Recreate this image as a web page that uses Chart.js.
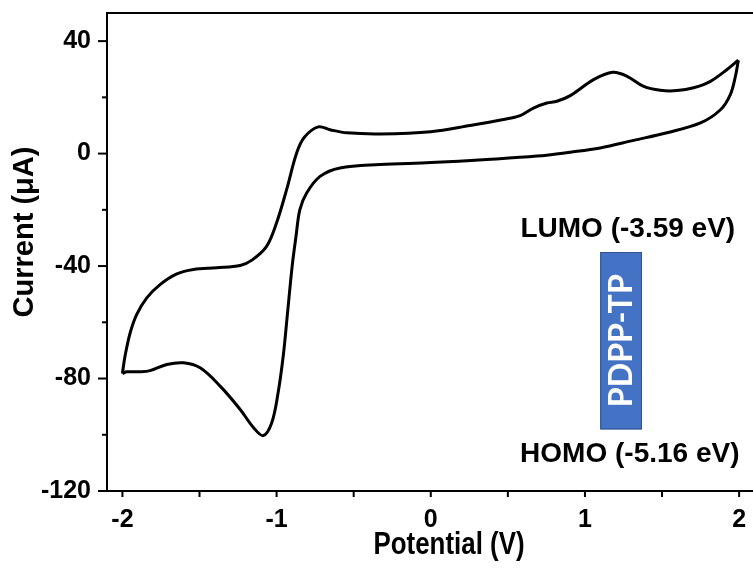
<!doctype html>
<html lang="en">
<head>
<meta charset="utf-8">
<title>Cyclic voltammogram PDPP-TP</title>
<script src="https://cdn.jsdelivr.net/npm/chart.js"></script>
<style>
  html,body{margin:0;padding:0;background:#fff;}
</style>
</head>
<body>
<canvas id="chart" width="753" height="569"></canvas>
<script>
/* ─── data ─── */
// forward scan, -2 V -> 2 V
const fwdPotential=[-2.0,-1.983,-1.95,-1.907,-1.842,-1.756,-1.647,-1.539,-1.388,-1.236,-1.16,-1.065,-1.0,-0.935,-0.87,-0.82,-0.73,-0.654,-0.545,-0.329,0,0.255,0.471,0.58,0.666,0.753,0.818,0.905,1.056,1.18,1.273,1.381,1.489,1.597,1.705,1.814,1.922,1.995];
const fwdCurrent  =[-78.2,-72,-63.8,-57.2,-51.3,-46.6,-42.8,-41.2,-40.6,-39.8,-37.9,-33,-24.6,-12.8,0.2,5.8,9.5,8.5,7.4,7.0,7.8,10,12.1,13.5,16.2,18.0,18.6,20.6,26.3,28.9,27.5,23.9,22.5,22.4,23.4,25.7,29.9,33.2];
// reverse scan, 2 V -> -2 V
const revPotential=[1.995,1.976,1.943,1.879,1.749,1.532,1.316,1.099,0.905,0.688,0.364,0,-0.329,-0.589,-0.718,-0.805,-0.849,-0.874,-0.899,-0.931,-0.957,-0.99,-1.032,-1.087,-1.149,-1.236,-1.366,-1.496,-1.604,-1.712,-1.821,-1.886,-1.972,-2.0];
const revCurrent  =[33.2,27.5,21,15.6,10.9,7.4,4.7,2.0,0.5,-0.9,-2.1,-3.2,-3.9,-5.1,-8.1,-14,-19.9,-29.4,-40,-57.8,-72,-85,-95.8,-100.3,-97.5,-91,-82.7,-76.2,-74.4,-75,-77.2,-77.6,-77.6,-78.2];

const X_TICKS  =[-2,-1.5,-1,-0.5,0,0.5,1,1.5,2];
const X_LABELED=[-2,-1,0,1,2];
const Y_TICKS  =[-120,-100,-80,-60,-40,-20,0,20,40];
const Y_LABELED=[-120,-80,-40,0,40];

const LUMO_TEXT='LUMO (-3.59 eV)';
const HOMO_TEXT='HOMO (-5.16 eV)';
const BAND_TEXT='PDPP-TP';
// band box + labels, in data units (V, µA)
const BAND_X=[1.099,1.370];
const BAND_Y=[-35.0,-98.1];
const LUMO_AT={x:1.278,y:-27};
const HOMO_AT={x:1.291,y:-107};

const FONT='"Liberation Sans", Arial, sans-serif';

const zip=(xs,ys)=>xs.map((v,i)=>({x:v,y:ys[i]}));

/* frame, tick marks, titles and the energy-level box */
const decor={
  id:'decor',
  afterDraw(chart){
    const {ctx,chartArea:{left,right,top,bottom},scales:{x,y}}=chart;
    ctx.save();
    ctx.strokeStyle='#000';ctx.lineWidth=2;
    ctx.beginPath();ctx.moveTo(left-1,top);ctx.lineTo(right,top);ctx.stroke();

    X_TICKS.forEach(v=>{
      const p=x.getPixelForValue(v);
      ctx.beginPath();ctx.moveTo(p,bottom);ctx.lineTo(p,bottom+6);ctx.stroke();
    });
    Y_TICKS.forEach(v=>{
      const p=y.getPixelForValue(v), l=Y_LABELED.includes(v)?9:5;
      ctx.beginPath();ctx.moveTo(left,p);ctx.lineTo(left-l,p);ctx.stroke();
    });

    ctx.fillStyle='#000';
    ctx.textAlign='center';ctx.textBaseline='middle';

    // y title
    ctx.save();
    ctx.translate(25,232);ctx.rotate(-Math.PI/2);
    ctx.font='bold 29px '+FONT;
    ctx.fillText('Current (μA)',0,0);
    ctx.restore();

    // x title (narrow in the original)
    ctx.save();
    ctx.translate(449,545);ctx.scale(0.81,1);
    ctx.font='bold 32px '+FONT;
    ctx.fillText('Potential (V)',0,0);
    ctx.restore();

    // energy levels
    ctx.font='bold 28px '+FONT;
    ctx.fillText(LUMO_TEXT,x.getPixelForValue(LUMO_AT.x),y.getPixelForValue(LUMO_AT.y));
    ctx.fillText(HOMO_TEXT,x.getPixelForValue(HOMO_AT.x),y.getPixelForValue(HOMO_AT.y));

    const bx0=x.getPixelForValue(BAND_X[0]), bx1=x.getPixelForValue(BAND_X[1]);
    const by0=y.getPixelForValue(BAND_Y[0]), by1=y.getPixelForValue(BAND_Y[1]);
    ctx.fillStyle='#4472C4';
    ctx.fillRect(bx0,by0,bx1-bx0,by1-by0);
    ctx.lineWidth=1;ctx.strokeStyle='#2F528F';
    ctx.strokeRect(bx0+0.5,by0+0.5,bx1-bx0-1,by1-by0-1);

    ctx.save();
    ctx.translate((bx0+bx1)/2,(by0+by1)/2);ctx.rotate(-Math.PI/2);
    ctx.font='bold 32px Lato, '+FONT;
    const w=ctx.measureText(BAND_TEXT).width;
    ctx.scale(133/w,1);
    ctx.fillStyle='#fff';
    ctx.fillText(BAND_TEXT,0,1);
    ctx.restore();

    ctx.restore();
  }
};

const lineStyle={
  showLine:true, pointRadius:0, borderColor:'#000', backgroundColor:'#000',
  borderWidth:3, tension:0.35, fill:false
};

new Chart(document.getElementById('chart'),{
  type:'scatter',
  data:{datasets:[
    {label:'forward',data:zip(fwdPotential,fwdCurrent),...lineStyle},
    {label:'reverse',data:zip(revPotential,revCurrent),...lineStyle}
  ]},
  options:{
    responsive:false, animation:false,
    layout:{padding:{top:13,right:0,left:0,bottom:0}},
    plugins:{legend:{display:false},tooltip:{enabled:false}},
    scales:{
      x:{
        type:'linear', min:-2.1, max:2.09,
        afterBuildTicks:s=>{s.ticks=X_TICKS.map(v=>({value:v}));},
        afterFit:s=>{s.height=78;s.paddingLeft=0;s.paddingRight=0;},
        ticks:{
          autoSkip:false, maxRotation:0, padding:8, color:'#000',
          font:{family:FONT,size:25,weight:'bold'},
          callback:v=>X_LABELED.includes(v)?String(v):''
        },
        grid:{display:true,drawOnChartArea:false,drawTicks:true,tickLength:6,tickColor:'rgba(0,0,0,0)'},
        border:{display:true,color:'#000',width:2}
      },
      y:{
        type:'linear', min:-120, max:50,
        afterBuildTicks:s=>{s.ticks=Y_TICKS.map(v=>({value:v}));},
        afterFit:s=>{s.width=107;s.paddingTop=0;s.paddingBottom=0;},
        ticks:{
          autoSkip:false, padding:7, color:'#000',
          font:{family:FONT,size:25,weight:'bold'},
          callback:v=>Y_LABELED.includes(v)?String(v):''
        },
        grid:{display:true,drawOnChartArea:false,drawTicks:true,tickLength:9,tickColor:'rgba(0,0,0,0)'},
        border:{display:true,color:'#000',width:2}
      }
    }
  },
  plugins:[decor]
});
</script>
</body>
</html>
